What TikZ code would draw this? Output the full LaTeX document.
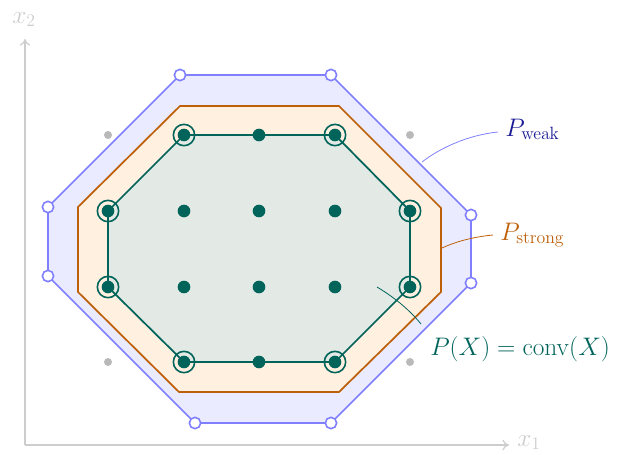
\RequirePackage{fix-cm}
\documentclass[tikz,border=0pt]{standalone}
\usetikzlibrary{arrows.meta}
\definecolor{wline}{RGB}{128,128,255}
\definecolor{wfill}{RGB}{235,235,255}
\definecolor{wtext}{RGB}{26,26,150}
\definecolor{sline}{RGB}{190,96,10}
\definecolor{sfill}{RGB}{255,240,224}
\definecolor{tline}{RGB}{0,100,90}
\definecolor{tfill}{RGB}{227,233,228}
\definecolor{axgray}{RGB}{205,205,205}
\definecolor{dotgray}{RGB}{185,185,185}
\tikzset{
  lab/.style={font=\fontsize{19}{23}\selectfont, inner sep=0pt},
  axis/.style={draw=axgray, line width=0.9pt, -{To[length=5pt,width=8pt]}},
  teal dot/.style={circle, fill=tline, inner sep=0pt, minimum size=9.5pt},
  ring/.style={circle, draw=tline, line width=1.2pt, inner sep=0pt, minimum size=16pt},
  gray dot/.style={circle, fill=dotgray, inner sep=0pt, minimum size=6pt},
  hollow/.style={circle, draw=wline, fill=white, line width=1.2pt, inner sep=0pt, minimum size=8.5pt},
  lead/.style={line width=0.6pt},
}
\begin{document}
\begin{tikzpicture}[x=0.75pt,y=-0.75pt]
\useasboundingbox (0,0) rectangle (617,454);
% axes
\coordinate (O) at (25,445);
\coordinate (xend) at (509,445);
\coordinate (yend) at (25,39);
\draw[axis] (O) -- (xend);
\draw[axis] (O) -- (yend);
\node[lab, text=axgray, anchor=base west] (x1) at (517,446) {$x_1$};
\node[lab, text=axgray, anchor=base west] (x2) at (12,23) {$x_2$};
% weak polygon
\coordinate (w1) at (180,75);
\coordinate (w2) at (331,75);
\coordinate (w3) at (471,215);
\coordinate (w4) at (471,283);
\coordinate (w5) at (331,423);
\coordinate (w6) at (195,423);
\coordinate (w7) at (48,276);
\coordinate (w8) at (48,207);
\draw[wline, fill=wfill, line width=1.3pt, line join=round]
  (w1) -- (w2) -- (w3) -- (w4) -- (w5) -- (w6) -- (w7) -- (w8) -- cycle;
% strong polygon
\coordinate (s1) at (180,106);
\coordinate (s2) at (339,106);
\coordinate (s3) at (441,208);
\coordinate (s4) at (441,292);
\coordinate (s5) at (339,392);
\coordinate (s6) at (179,392);
\coordinate (s7) at (78,292);
\coordinate (s8) at (78,207);
\draw[sline, fill=sfill, line width=1.3pt]
  (s1) -- (s2) -- (s3) -- (s4) -- (s5) -- (s6) -- (s7) -- (s8) -- cycle;
% integer hull
\coordinate (c1) at (184,135);
\coordinate (c2) at (335,135);
\coordinate (c3) at (410,211);
\coordinate (c4) at (410,287);
\coordinate (c5) at (335,362);
\coordinate (c6) at (184,362);
\coordinate (c7) at (108,287);
\coordinate (c8) at (108,211);
\draw[tline, fill=tfill, line width=1.3pt]
  (c1) -- (c2) -- (c3) -- (c4) -- (c5) -- (c6) -- (c7) -- (c8) -- cycle;
% gray points
\foreach \p [count=\i] in {(108,135),(410,135),(108,362),(410,362)}
  \node[gray dot] (g\i) at \p {};
% teal points
\foreach \p [count=\i] in {(184,135),(259,135),(335,135),
  (108,211),(184,211),(259,211),(335,211),(410,211),
  (108,287),(184,287),(259,287),(335,287),(410,287),
  (184,362),(259,362),(335,362)}
  \node[teal dot] (d\i) at \p {};
% rings at vertices
\foreach \i in {1,...,8}
  \node[ring] (r\i) at (c\i) {};
% hollow weak vertices
\foreach \i in {1,...,8}
  \node[hollow] (h\i) at (w\i) {};
% labels
\node[lab, text=wtext, anchor=base west] (Lw) at (505,136) {$P_{\mathrm{weak}}$};
\node[lab, text=sline, anchor=base west] (Ls) at (500,240) {$P_{\mathrm{strong}}$};
\node[lab, text=tline, anchor=base west] (Lp) at (430,355) {$P(X)=\mathrm{conv}(X)$};
% leaders
\coordinate (lw0) at (498,132);
\coordinate (lw1) at (422,162);
\coordinate (ls0) at (493,235);
\coordinate (ls1) at (442,248);
\coordinate (lp0) at (421,324);
\coordinate (lp1) at (377,287);
\draw[wline, lead] (lw0) .. controls (468,135) and (440,148) .. (lw1);
\draw[sline, lead] (ls0) .. controls (472,237) and (455,242) .. (ls1);
\draw[tline, lead] (lp0) .. controls (408,308) and (392,296) .. (lp1);
\end{tikzpicture}
\end{document}
